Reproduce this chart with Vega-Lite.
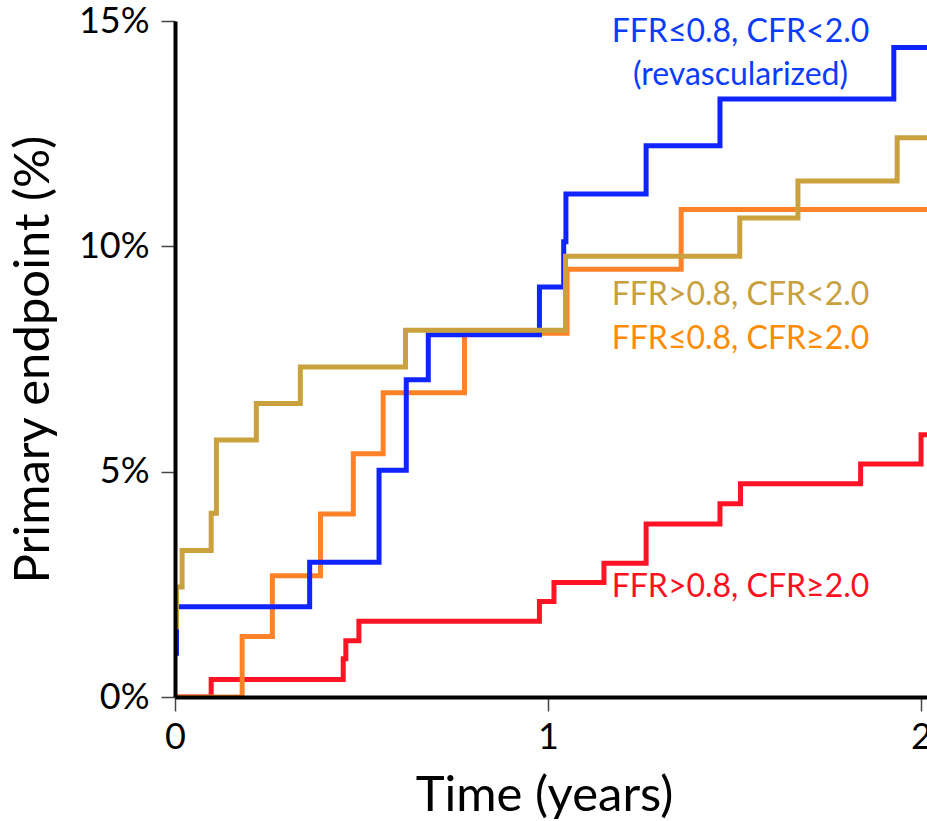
{
  "$schema": "https://vega.github.io/schema/vega-lite/v6.json",
  "width": 752,
  "height": 676,
  "autosize": {"type": "none"},
  "padding": {"left": 175, "top": 21, "right": 0, "bottom": 124},
  "background": "white",
  "config": {"view": {"stroke": null}, "font": "Lato"},
  "encoding": {
    "x": {
      "field": "t", "type": "quantitative",
      "scale": {"domain": [0, 2.016], "nice": false, "zero": false},
      "axis": {
        "values": [0, 1, 2], "labelExpr": "'' + round(datum.value)", "title": "Time (years)",
        "labelFontSize": 36, "labelColor": "black", "labelPadding": 9, "labelFlush": false, "labelOverlap": false,
        "titleFontSize": 49, "titleFontWeight": "normal", "titleColor": "black",
        "titleX": 369, "titleY": 113, "titleAlign": "center", "titleBaseline": "alphabetic",
        "domainColor": "black", "domainWidth": 4, "tickColor": "#444", "tickWidth": 1.5, "tickSize": 14,
        "grid": false, "zindex": 1
      }
    },
    "y": {
      "field": "pct", "type": "quantitative",
      "scale": {"domain": [0, 15], "nice": false},
      "axis": {
        "values": [0, 5, 10, 15], "labelExpr": "datum.value + '%'", "title": "Primary endpoint (%)",
        "labelFontSize": 36, "labelColor": "black", "labelPadding": 12, "labelFlush": false, "labelOverlap": false,
        "titleFontSize": 49, "titleFontWeight": "normal", "titleColor": "black",
        "titleX": -127, "titleY": 338, "titleAngle": 270, "titleAlign": "center", "titleBaseline": "alphabetic",
        "domainColor": "black", "domainWidth": 4, "tickColor": "#444", "tickWidth": 1.5, "tickSize": 14,
        "grid": false, "zindex": 1
      }
    }
  },
  "layer": [
    {
      "data": {
        "values": [
          {"series": "FFR>0.8, CFR≥2.0", "t": 0, "pct": 0},
          {"series": "FFR>0.8, CFR≥2.0", "t": 0.097, "pct": 0.39},
          {"series": "FFR>0.8, CFR≥2.0", "t": 0.451, "pct": 0.85},
          {"series": "FFR>0.8, CFR≥2.0", "t": 0.458, "pct": 1.25},
          {"series": "FFR>0.8, CFR≥2.0", "t": 0.493, "pct": 1.68},
          {"series": "FFR>0.8, CFR≥2.0", "t": 0.977, "pct": 2.12},
          {"series": "FFR>0.8, CFR≥2.0", "t": 1.016, "pct": 2.54},
          {"series": "FFR>0.8, CFR≥2.0", "t": 1.15, "pct": 2.97},
          {"series": "FFR>0.8, CFR≥2.0", "t": 1.263, "pct": 3.84},
          {"series": "FFR>0.8, CFR≥2.0", "t": 1.461, "pct": 4.29},
          {"series": "FFR>0.8, CFR≥2.0", "t": 1.516, "pct": 4.73},
          {"series": "FFR>0.8, CFR≥2.0", "t": 1.838, "pct": 5.17},
          {"series": "FFR>0.8, CFR≥2.0", "t": 2.0, "pct": 5.82},
          {"series": "FFR>0.8, CFR≥2.0", "t": 2.03, "pct": 5.82},
          {"series": "FFR≤0.8, CFR≥2.0", "t": 0, "pct": 0},
          {"series": "FFR≤0.8, CFR≥2.0", "t": 0.18, "pct": 1.34},
          {"series": "FFR≤0.8, CFR≥2.0", "t": 0.261, "pct": 2.69},
          {"series": "FFR≤0.8, CFR≥2.0", "t": 0.39, "pct": 4.06},
          {"series": "FFR≤0.8, CFR≥2.0", "t": 0.478, "pct": 5.4},
          {"series": "FFR≤0.8, CFR≥2.0", "t": 0.558, "pct": 6.75},
          {"series": "FFR≤0.8, CFR≥2.0", "t": 0.776, "pct": 8.07},
          {"series": "FFR≤0.8, CFR≥2.0", "t": 1.051, "pct": 9.49},
          {"series": "FFR≤0.8, CFR≥2.0", "t": 1.357, "pct": 10.82},
          {"series": "FFR≤0.8, CFR≥2.0", "t": 2.03, "pct": 10.82},
          {"series": "FFR≤0.8, CFR<2.0", "t": 0, "pct": 0.97},
          {"series": "FFR≤0.8, CFR<2.0", "t": 0.004, "pct": 2.0},
          {"series": "FFR≤0.8, CFR<2.0", "t": 0.361, "pct": 2.99},
          {"series": "FFR≤0.8, CFR<2.0", "t": 0.547, "pct": 5.03},
          {"series": "FFR≤0.8, CFR<2.0", "t": 0.62, "pct": 7.04},
          {"series": "FFR≤0.8, CFR<2.0", "t": 0.679, "pct": 8.04},
          {"series": "FFR≤0.8, CFR<2.0", "t": 0.977, "pct": 9.1},
          {"series": "FFR≤0.8, CFR<2.0", "t": 1.042, "pct": 10.1},
          {"series": "FFR≤0.8, CFR<2.0", "t": 1.048, "pct": 11.16},
          {"series": "FFR≤0.8, CFR<2.0", "t": 1.263, "pct": 12.23},
          {"series": "FFR≤0.8, CFR<2.0", "t": 1.461, "pct": 13.27},
          {"series": "FFR≤0.8, CFR<2.0", "t": 1.927, "pct": 14.41},
          {"series": "FFR≤0.8, CFR<2.0", "t": 2.03, "pct": 14.41},
          {"series": "FFR>0.8, CFR<2.0", "t": 0, "pct": 1.56},
          {"series": "FFR>0.8, CFR<2.0", "t": 0.004, "pct": 2.44},
          {"series": "FFR>0.8, CFR<2.0", "t": 0.019, "pct": 3.25},
          {"series": "FFR>0.8, CFR<2.0", "t": 0.097, "pct": 4.08},
          {"series": "FFR>0.8, CFR<2.0", "t": 0.111, "pct": 5.7},
          {"series": "FFR>0.8, CFR<2.0", "t": 0.218, "pct": 6.51},
          {"series": "FFR>0.8, CFR<2.0", "t": 0.336, "pct": 7.32},
          {"series": "FFR>0.8, CFR<2.0", "t": 0.618, "pct": 8.14},
          {"series": "FFR>0.8, CFR<2.0", "t": 1.047, "pct": 9.78},
          {"series": "FFR>0.8, CFR<2.0", "t": 1.514, "pct": 10.63},
          {"series": "FFR>0.8, CFR<2.0", "t": 1.67, "pct": 11.45},
          {"series": "FFR>0.8, CFR<2.0", "t": 1.936, "pct": 12.41},
          {"series": "FFR>0.8, CFR<2.0", "t": 2.03, "pct": 12.41}
        ]
      },
      "mark": {"type": "line", "interpolate": "step-after", "strokeWidth": 5, "clip": true, "strokeJoin": "miter", "strokeCap": "butt"},
      "encoding": {
        "color": {
          "field": "series", "type": "nominal",
          "scale": {
            "domain": ["FFR>0.8, CFR≥2.0", "FFR≤0.8, CFR≥2.0", "FFR≤0.8, CFR<2.0", "FFR>0.8, CFR<2.0"],
            "range": ["#FF1426", "#FF8228", "#0F24FF", "#C9A23E"]
          },
          "legend": null
        }
      }
    },
    {
      "data": {
        "values": [
          {"group": "blue", "text": "FFR≤0.8, CFR<2.0", "t": 1.516, "pct": 14.54},
          {"group": "blue", "text": "(revascularized)", "t": 1.516, "pct": 13.58},
          {"group": "gold", "text": "FFR>0.8, CFR<2.0", "t": 1.516, "pct": 8.7},
          {"group": "orange", "text": "FFR≤0.8, CFR≥2.0", "t": 1.516, "pct": 7.72},
          {"group": "red", "text": "FFR>0.8, CFR≥2.0", "t": 1.516, "pct": 2.23}
        ]
      },
      "mark": {"type": "text", "align": "center", "baseline": "alphabetic", "fontSize": 32},
      "encoding": {
        "text": {"field": "text"},
        "color": {
          "field": "group", "type": "nominal",
          "scale": {"domain": ["blue", "gold", "orange", "red"], "range": ["#0A3CFF", "#C8A03C", "#FF8C00", "#FF1020"]},
          "legend": null
        }
      }
    }
  ],
  "resolve": {"scale": {"color": "independent"}}
}
